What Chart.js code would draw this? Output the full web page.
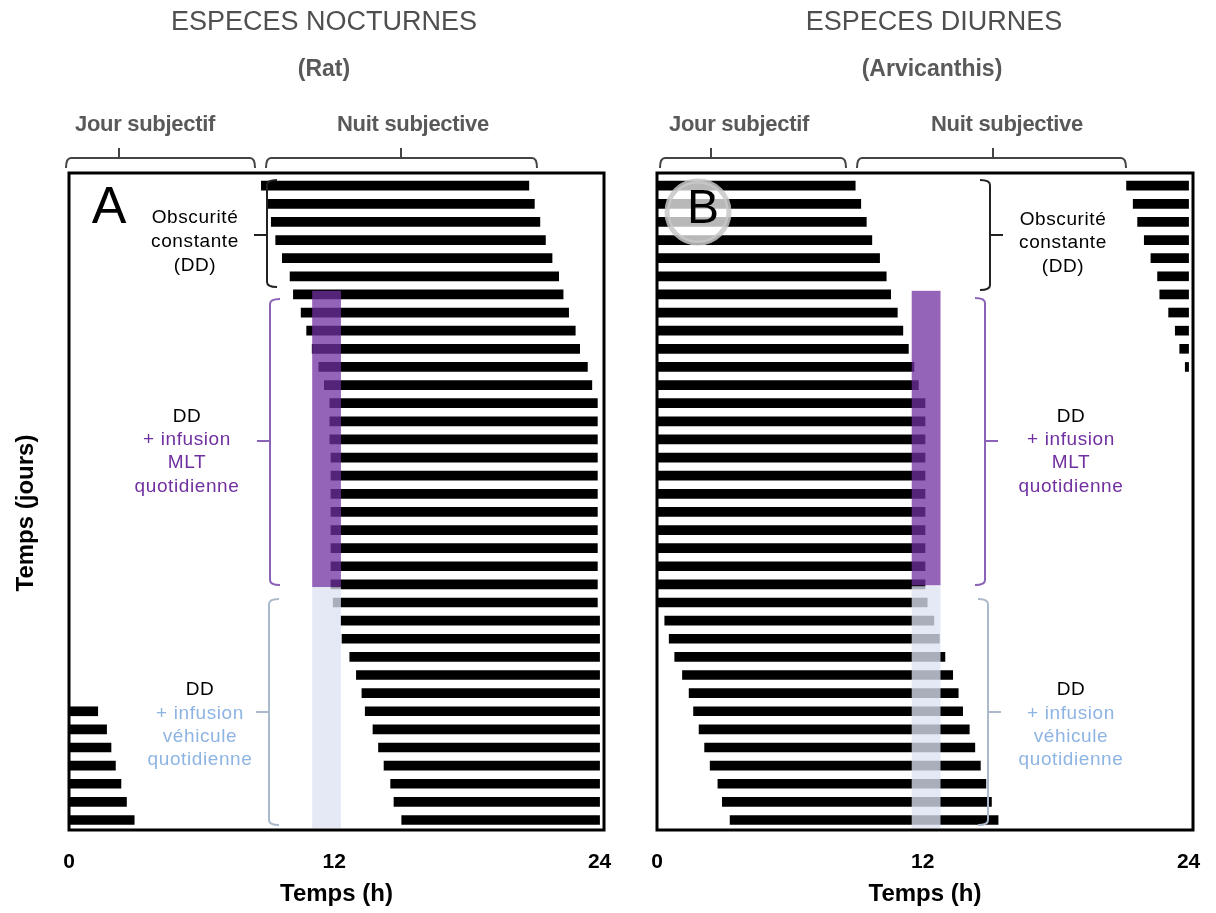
<!DOCTYPE html>
<html>
<head>
<meta charset="utf-8">
<script src="https://cdn.jsdelivr.net/npm/chart.js"></script>
<style>
  body { margin: 0; background: #fff; }
  #wrap { position: relative; width: 1216px; height: 913px; }
  #chartA { position: absolute; left: 0; top: 0; z-index: 1; }
  #chartB { position: absolute; left: 608px; top: 0; z-index: 2; }
</style>
</head>
<body>
<div id="wrap">
  <canvas id="chartA" width="640" height="913"></canvas>
  <canvas id="chartB" width="608" height="913"></canvas>
</div>
<script>
const hourTicks = [0, 12, 24];

// Rat (nocturne): debut / fin d'activite par jour, en heures
const ratOnset = [8.7, 8.95, 9.15, 9.35, 9.65, 10.0, 10.15, 10.5, 10.75, 11.0, 11.3, 11.55,
  11.8, 11.8, 11.8, 11.85, 11.85, 11.85, 11.85, 11.85, 11.85, 11.85, 11.85, 11.95,
  12.3, 12.35, 12.7, 13.0, 13.25, 13.4, 13.75, 14.0, 14.25, 14.55, 14.7, 15.05];
const ratOffset = [20.8, 21.05, 21.3, 21.55, 21.85, 22.15, 22.35, 22.6, 22.9, 23.1, 23.45, 23.65,
  23.9, 23.9, 23.9, 23.9, 23.9, 23.9, 23.9, 23.9, 23.9, 23.9, 23.9, 23.9,
  24, 24, 24, 24, 24, 24, 24, 24, 24, 24, 24, 24];
const ratWrapDays = [29, 30, 31, 32, 33, 34, 35];
const ratWrapEnd = [1.3, 1.7, 1.9, 2.1, 2.35, 2.6, 2.95];

// Arvicanthis (diurne)
const arvOnset = [0, 0, 0, 0, 0, 0, 0, 0, 0, 0, 0, 0,
  0, 0, 0, 0, 0, 0, 0, 0, 0, 0, 0, 0,
  0.35, 0.55, 0.8, 1.15, 1.45, 1.65, 1.9, 2.15, 2.4, 2.75, 2.95, 3.3];
const arvOffset = [8.95, 9.2, 9.45, 9.7, 10.05, 10.35, 10.55, 10.85, 11.1, 11.35, 11.6, 11.8,
  12.1, 12.1, 12.1, 12.1, 12.1, 12.1, 12.1, 12.1, 12.1, 12.1, 12.1, 12.2,
  12.5, 12.75, 13.0, 13.35, 13.6, 13.8, 14.1, 14.35, 14.6, 14.85, 15.1, 15.4];
const arvWrapDays = [0, 1, 2, 3, 4, 5, 6, 7, 8, 9, 10];
const arvWrapStart = [21.2, 21.5, 21.7, 22.0, 22.3, 22.6, 22.7, 23.1, 23.4, 23.6, 23.85];

// infusions (heures, jours)
const ratMltHours = [11.0, 12.3], ratMltDays = [5.8, 22.15];
const ratVehHours = [11.0, 12.3], ratVehDays = [22.15, 35.45];
const arvMltHours = [11.5, 12.8], arvMltDays = [5.8, 22.05];
const arvVehHours = [11.5, 12.8], arvVehDays = [22.1, 35.45];

const FONT = "'Liberation Sans', Arial, sans-serif";
const PURPLE = '#7030a0', BLUE = '#8eb4e3';
const mltBand = 'rgba(112, 48, 160, 0.75)', vehBand = 'rgba(220, 226, 242, 0.77)';

const ddLines = [['Obscurité', '#000'], ['constante', '#000'], ['(DD)', '#000']];
const mltLines = [['DD', '#000'], ['+ infusion', PURPLE], ['MLT', PURPLE], ['quotidienne', PURPLE]];
const vehLines = [['DD', '#000'], ['+ infusion', BLUE], ['véhicule', BLUE], ['quotidienne', BLUE]];

const panels = {
  chartA: {
    title: 'ESPECES NOCTURNES', titleX: 324, sub: '(Rat)', subX: 324,
    heads: [{ text: 'Jour subjectif', x: 145, from: 66, to: 255, tick: 119 },
            { text: 'Nuit subjective', x: 413, from: 266, to: 537, tick: 401 }],
    letter: 'A', letterX: 109, letterY: 209, letterSize: 52, halo: null, yTitle: true,
    bands: [{ h: ratMltHours, d: ratMltDays, c: mltBand }, { h: ratVehHours, d: ratVehDays, c: vehBand }],
    notes: [{ lines: ddLines, x: 195, y: [218, 241.5, 266] },
            { lines: mltLines, x: 187, y: [417, 440, 463, 487] },
            { lines: vehLines, x: 200, y: [690, 714, 737, 760] }],
    braces: [{ x: 267, y1: 180, y2: 287, t: 235, side: -1, c: '#222' },
             { x: 270, y1: 299, y2: 585, t: 441, side: -1, c: '#8a63b8' },
             { x: 269, y1: 599, y2: 825, t: 712, side: -1, c: '#aab9cc' }]
  },
  chartB: {
    title: 'ESPECES DIURNES', titleX: 326, sub: '(Arvicanthis)', subX: 324,
    heads: [{ text: 'Jour subjectif', x: 131, from: 52, to: 238, tick: 103 },
            { text: 'Nuit subjective', x: 399, from: 249, to: 518, tick: 385 }],
    letter: 'B', letterX: 95, letterY: 210, letterSize: 48, halo: { x: 90, y: 212, r: 31 }, yTitle: false,
    bands: [{ h: arvMltHours, d: arvMltDays, c: mltBand }, { h: arvVehHours, d: arvVehDays, c: vehBand }],
    notes: [{ lines: ddLines, x: 455, y: [220, 243, 267] },
            { lines: mltLines, x: 463, y: [417, 440, 463, 487] },
            { lines: vehLines, x: 463, y: [690, 714, 737, 760] }],
    braces: [{ x: 382, y1: 180, y2: 290, t: 235, side: 1, c: '#222' },
             { x: 377, y1: 298, y2: 585, t: 441, side: 1, c: '#8a63b8' },
             { x: 380, y1: 599, y2: 825, t: 712, side: 1, c: '#aab9cc' }]
  }
};

function txt(ctx, s, x, y, font, color, ls) {
  ctx.font = font;
  ctx.fillStyle = color;
  ctx.textAlign = 'center';
  ctx.textBaseline = 'middle';
  ctx.letterSpacing = ls || '0px';
  ctx.fillText(s, x, y);
  ctx.letterSpacing = '0px';
}

function vBrace(ctx, b) {
  const hook = -10 * b.side, r = 5;
  ctx.strokeStyle = b.c;
  ctx.lineWidth = 2;
  ctx.beginPath();
  ctx.moveTo(b.x + hook, b.y1);
  ctx.quadraticCurveTo(b.x, b.y1, b.x, b.y1 + r);
  ctx.lineTo(b.x, b.y2 - r);
  ctx.quadraticCurveTo(b.x, b.y2, b.x + hook, b.y2);
  ctx.moveTo(b.x, b.t);
  ctx.lineTo(b.x + 13 * b.side, b.t);
  ctx.stroke();
}

function hBrace(ctx, h) {
  const y = 158, r = 5;
  ctx.strokeStyle = '#444';
  ctx.lineWidth = 2;
  ctx.beginPath();
  ctx.moveTo(h.from, y + 10);
  ctx.quadraticCurveTo(h.from, y, h.from + r, y);
  ctx.lineTo(h.to - r, y);
  ctx.quadraticCurveTo(h.to, y, h.to, y + 10);
  ctx.moveTo(h.tick, y);
  ctx.lineTo(h.tick, y - 10);
  ctx.stroke();
}

const decor = {
  id: 'decor',
  afterDatasetsDraw(chart) {
    const p = panels[chart.canvas.id];
    const { ctx, scales: { x, y } } = chart;
    ctx.save();
    p.bands.forEach(b => {
      const x1 = x.getPixelForValue(b.h[0]), x2 = x.getPixelForValue(b.h[1]);
      const y1 = y.getPixelForValue(b.d[0]), y2 = y.getPixelForValue(b.d[1]);
      ctx.fillStyle = b.c;
      ctx.fillRect(x1, y1, x2 - x1, y2 - y1);
    });
    if (p.halo) {
      ctx.beginPath();
      ctx.arc(p.halo.x, p.halo.y, p.halo.r, 0, Math.PI * 2);
      ctx.fillStyle = 'rgba(255,255,255,0.72)';
      ctx.fill();
      ctx.lineWidth = 5;
      ctx.strokeStyle = 'rgba(200,200,200,0.85)';
      ctx.stroke();
    }
    ctx.restore();
  },
  afterDraw(chart) {
    const p = panels[chart.canvas.id];
    const { ctx, chartArea: a } = chart;
    ctx.save();
    // cadre
    ctx.strokeStyle = '#000';
    ctx.lineWidth = 3;
    ctx.strokeRect(a.left, a.top, a.right - a.left, a.bottom - a.top);
    // titres
    txt(ctx, p.title, p.titleX, 23, '27px ' + FONT, '#4f4f4f');
    txt(ctx, p.sub, p.subX, 70, 'bold 23px ' + FONT, '#595959');
    p.heads.forEach(h => {
      txt(ctx, h.text, h.x, 125, 'bold 22px ' + FONT, '#595959', '-0.3px');
      hBrace(ctx, h);
    });
    // lettre du panneau
    txt(ctx, p.letter, p.letterX, p.letterY, p.letterSize + 'px ' + FONT, '#000');
    // annotations
    p.notes.forEach(n => {
      n.lines.forEach((l, i) => txt(ctx, l[0], n.x, n.y[i], '19px ' + FONT, l[1], '0.6px'));
    });
    p.braces.forEach(b => vBrace(ctx, b));
    if (p.yTitle) {
      ctx.translate(26, 513);
      ctx.rotate(-Math.PI / 2);
      txt(ctx, 'Temps (jours)', 0, 0, 'bold 24px ' + FONT, '#000');
    }
    ctx.restore();
  }
};

function makeChart(id, onset, offset, wrap, padding) {
  const main = onset.map((v, i) => ({ y: i, x: [v, offset[i]] }));
  return new Chart(id, {
    type: 'bar',
    data: {
      datasets: [
        { label: 'Activité', data: main, backgroundColor: '#000', barThickness: 9, grouped: false },
        { label: 'Activité (suite)', data: wrap, backgroundColor: '#000', barThickness: 9, grouped: false }
      ]
    },
    options: {
      indexAxis: 'y',
      responsive: false,
      animation: false,
      layout: { padding: padding },
      plugins: { legend: { display: false }, tooltip: { enabled: false } },
      scales: {
        x: {
          type: 'linear', min: 0, max: 24.2, offset: false,
          grid: { display: false }, border: { display: false },
          afterBuildTicks: s => { s.ticks = hourTicks.map(v => ({ value: v })); },
          afterFit: s => { s.height = 83; },
          ticks: { color: '#000', font: { family: FONT, size: 21, weight: 'bold' }, padding: 12, maxRotation: 0, autoSkip: false },
          title: { display: true, text: 'Temps (h)', color: '#000', font: { family: FONT, size: 24, weight: 'bold' }, padding: { top: 0, bottom: 4 } }
        },
        y: { type: 'linear', reverse: true, min: -0.7, max: 35.55, offset: false, display: false }
      }
    },
    plugins: [decor]
  });
}

makeChart('chartA', ratOnset, ratOffset,
  ratWrapDays.map((d, k) => ({ y: d, x: [0, ratWrapEnd[k]] })),
  { left: 69, right: 36, top: 173, bottom: 0 });
makeChart('chartB', arvOnset, arvOffset,
  arvWrapDays.map((d, k) => ({ y: d, x: [arvWrapStart[k], 24] })),
  { left: 49, right: 23, top: 173, bottom: 0 });
</script>
</body>
</html>
